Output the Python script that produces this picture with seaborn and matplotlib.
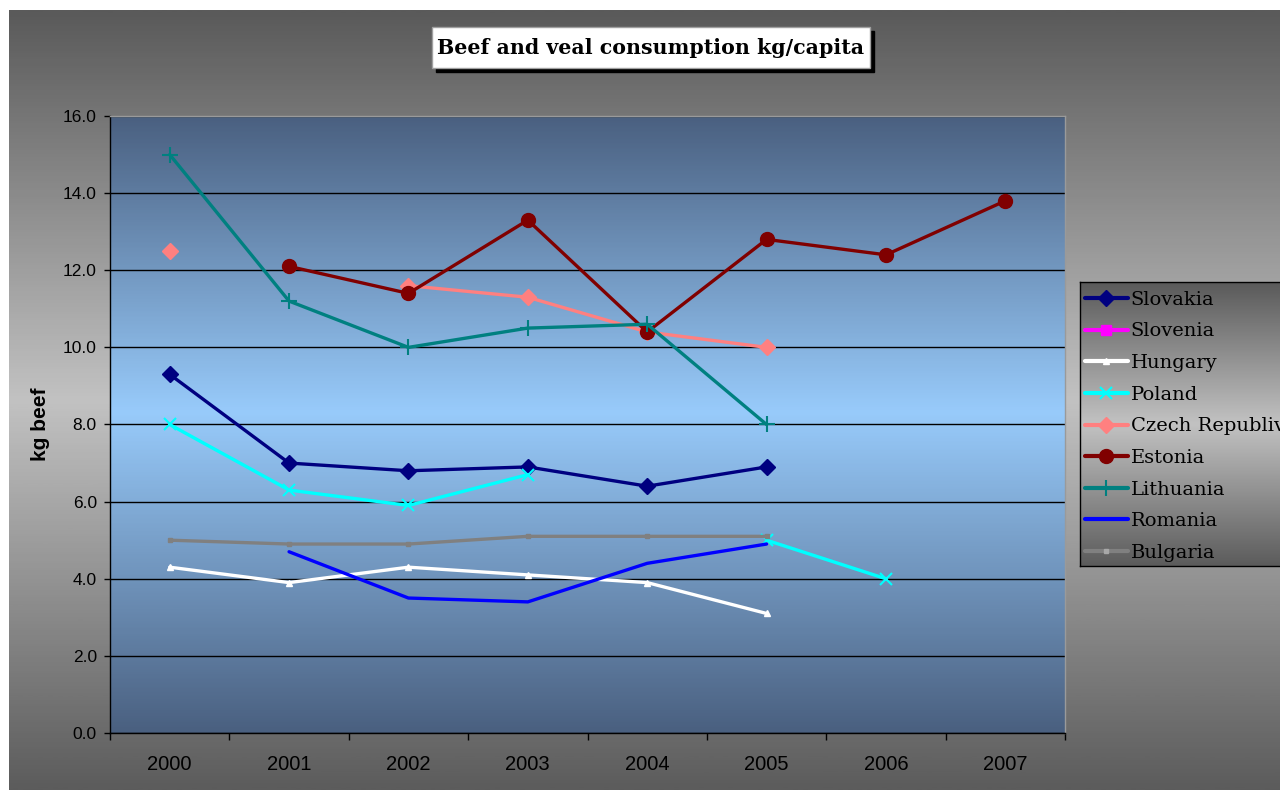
import numpy as np
import pandas as pd
import matplotlib
matplotlib.use("Agg")
import matplotlib.pyplot as plt
from matplotlib.colors import LinearSegmentedColormap
from matplotlib.lines import Line2D
from matplotlib.patches import Rectangle
import seaborn as sns

nan = np.nan

years = ["2000", "2001", "2002", "2003", "2004", "2005", "2006", "2007"]

countries = ["Slovakia", "Slovenia", "Hungary", "Poland", "Czech Republiv",
             "Estonia", "Lithuania", "Romania", "Bulgaria"]

slovakia = [9.3, 7.0, 6.8, 6.9, 6.4, 6.9, nan, nan]
slovenia = [nan, nan, nan, nan, nan, nan, nan, nan]
hungary = [4.3, 3.9, 4.3, 4.1, 3.9, 3.1, nan, nan]
poland = [8.0, 6.3, 5.9, 6.7, nan, 5.0, 4.0, nan]
czech = [12.5, nan, 11.6, 11.3, 10.4, 10.0, nan, nan]
estonia = [nan, 12.1, 11.4, 13.3, 10.4, 12.8, 12.4, 13.8]
lithuania = [15.0, 11.2, 10.0, 10.5, 10.6, 8.0, nan, nan]
romania = [nan, 4.7, 3.5, 3.4, 4.4, 4.9, nan, nan]
bulgaria = [5.0, 4.9, 4.9, 5.1, 5.1, 5.1, nan, nan]

series = [slovakia, slovenia, hungary, poland, czech,
          estonia, lithuania, romania, bulgaria]

# line style per country: colour, marker, marker size, marker edge width
styles = {
    "Slovakia": ("#000080", "D", 8, 1.0),
    "Slovenia": ("#ff00ff", "s", 7, 1.0),
    "Hungary": ("#ffffff", "^", 5, 1.0),
    "Poland": ("#00ffff", "x", 8, 1.5),
    "Czech Republiv": ("#ff8080", "D", 8, 1.0),
    "Estonia": ("#800000", "o", 10, 1.0),
    "Lithuania": ("#008080", "+", 12, 1.5),
    "Romania": ("#0000ff", "None", 0, 0),
    "Bulgaria": ("#808080", "s", 3, 1.0),
}

# long table, a new segment starts after each missing year
rows = []
for name, vals in zip(countries, series):
    seg = 0
    gap = True
    for i, v in enumerate(vals):
        if np.isnan(v):
            gap = True
            continue
        if gap:
            seg += 1
            gap = False
        rows.append({"country": name, "pos": i, "year": years[i], "kg": v, "seg": seg})
df = pd.DataFrame(rows)

sns.set_theme(style="white")
plt.rcParams["font.family"] = ["Liberation Sans", "DejaVu Sans"]

fig = plt.figure(figsize=(12.8, 7.9), dpi=100)
fig.patch.set_facecolor("white")

grad = np.linspace(0, 1, 400).reshape(-1, 1)
gray_cmap = LinearSegmentedColormap.from_list(
    "g", [(0, "#5a5a5a"), (0.5, "#c2c2c2"), (1, "#5c5c5c")])
blue_cmap = LinearSegmentedColormap.from_list(
    "b", [(0, "#4a6080"), (0.48, "#98cbfb"), (1, "#4a6080")])

# outer chart area
bg = fig.add_axes([9 / 1280, 0, 1 - 9 / 1280, 780 / 790], zorder=0)
bg.imshow(grad, aspect="auto", cmap=gray_cmap, extent=(0, 1, 0, 1))
bg.axis("off")

ax = fig.add_axes([110 / 1280, 57 / 790, 955 / 1280, 617 / 790], zorder=1)
ax.imshow(grad, aspect="auto", cmap=blue_cmap, extent=(-0.5, 7.5, 0, 16), zorder=0)

for name in countries:
    sub = df[df["country"] == name]
    if sub.empty:
        continue
    color, marker, ms, mew = styles[name]
    sns.lineplot(data=sub, x="pos", y="kg", units="seg", estimator=None,
                 color=color, lw=2.4, marker=marker, markersize=ms,
                 markeredgecolor=color, markerfacecolor=color,
                 markeredgewidth=mew, ax=ax, legend=False, zorder=3)

ax.set_xlim(-0.5, 7.5)
ax.set_ylim(0, 16)
ax.set_yticks(np.arange(0, 17, 2))
ax.set_yticklabels([f"{v:.1f}" for v in np.arange(0, 17, 2)])
ax.yaxis.grid(True, color="black", lw=1)
ax.xaxis.grid(False)
ax.set_axisbelow(True)

ax.set_xticks(np.arange(-0.5, 8, 1))
ax.set_xticklabels([])
ax.set_xticks(range(8), minor=True)
ax.set_xticklabels(years, minor=True)
ax.tick_params(axis="x", which="major", bottom=True, length=5, width=1,
               color="black", direction="out")
ax.tick_params(axis="x", which="minor", bottom=True, length=0,
               labelsize=14.5, pad=16, labelcolor="black")
ax.tick_params(axis="y", left=True, length=4.5, width=1, color="black",
               direction="out", labelsize=12.5, pad=5, labelcolor="black")

ax.set_xlabel("")
ax.set_ylabel("kg beef", fontsize=15, fontweight="bold", color="black", labelpad=9)

for side in ["left", "bottom"]:
    ax.spines[side].set_color("black")
    ax.spines[side].set_linewidth(1)
for side in ["top", "right"]:
    ax.spines[side].set_color("#9a9a9a")
    ax.spines[side].set_linewidth(1)

# title box with drop shadow
W, H = 1280, 790
fig.patches.append(Rectangle(((432 + 4) / W, (H - 68 - 4) / H), 438 / W, 41 / H,
                             transform=fig.transFigure, fc="black", ec="black",
                             lw=1, zorder=5))
fig.patches.append(Rectangle((432 / W, (H - 68) / H), 438 / W, 41 / H,
                             transform=fig.transFigure, fc="white", ec="#a0a0a0",
                             lw=1, zorder=6))
fig.text(651 / W, 1 - 48 / H, "Beef and veal consumption kg/capita",
         ha="center", va="center", fontsize=14.8, fontweight="bold",
         family="DejaVu Serif", color="black", zorder=7)

# legend box, runs past the right edge
lax = fig.add_axes([1080 / W, 224 / H, 230 / W, 284 / H], zorder=2)
lax.imshow(grad, aspect="auto", cmap=gray_cmap, extent=(0, 1, 0, 1))
lax.set_xticks([])
lax.set_yticks([])
for sp in lax.spines.values():
    sp.set_color("black")
    sp.set_linewidth(1)

handles = []
for name in countries:
    color, marker, ms, mew = styles[name]
    if name == "Bulgaria":
        mc = "#a8a8a8"
    else:
        mc = color
    handles.append(Line2D([0], [0], color=color, lw=3, marker=marker,
                          markersize=ms, markerfacecolor=mc, markeredgecolor=mc,
                          markeredgewidth=mew))
lax.legend(handles, countries, loc="upper left", bbox_to_anchor=(0.0, 1.0 - 4 / 284),
           frameon=False, prop={"family": "DejaVu Serif", "size": 14},
           handlelength=2.2, handletextpad=0.15, labelspacing=0.7,
           borderaxespad=0.0, borderpad=0.25, labelcolor="black")

fig.savefig("out.png", dpi=100)
